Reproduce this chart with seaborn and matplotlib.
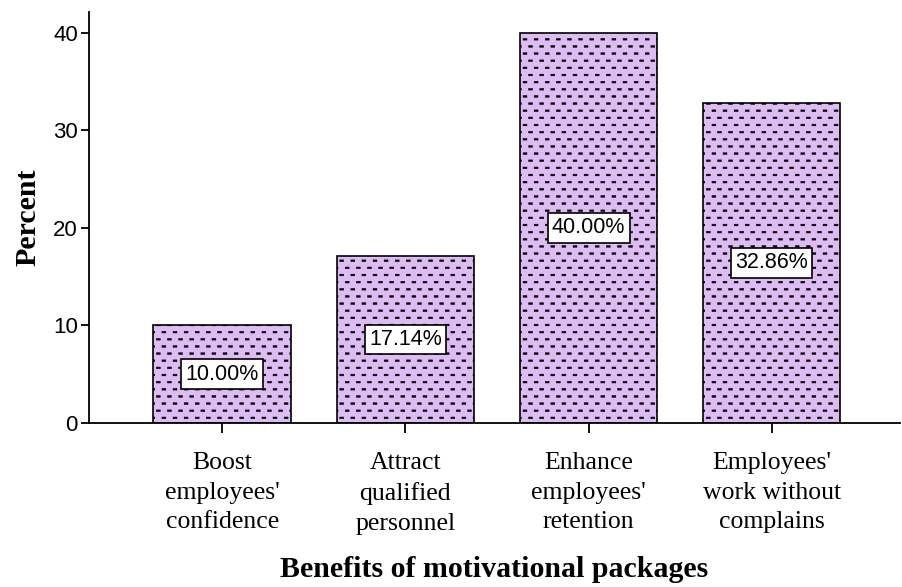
import matplotlib
matplotlib.use("Agg")
import matplotlib.pyplot as plt
import matplotlib.hatch as mhatch
from matplotlib.path import Path
import seaborn as sns
import pandas as pd
import numpy as np

categories = ["Boost\nemployees'\nconfidence", "Attract\nqualified\npersonnel",
              "Enhance\nemployees'\nretention", "Employees'\nwork without\ncomplains"]
percents = [10.00, 17.14, 40.00, 32.86]
value_labels = ["10.00%", "17.14%", "40.00%", "32.86%"]
y_ticks = [0, 10, 20, 30, 40]


class BrickDashes(mhatch.HatchPatternBase):
    """Staggered rows of short horizontal dashes, selected with '*'."""
    rows, cols = 14, 9
    half_w, half_h = 0.019, 0.008

    def __init__(self, hatch, density):
        self.active = hatch.count("*") > 0
        self.num_vertices = self.rows * self.cols * 5 if self.active else 0

    def set_vertices_and_codes(self, vertices, codes):
        k = 0
        for r in range(self.rows):
            y = (r + 0.5) / self.rows
            off = 0.75 if r % 2 else 0.25
            for c in range(self.cols):
                x = (c + off) / self.cols
                vertices[k:k + 5] = [[x - self.half_w, y - self.half_h],
                                     [x + self.half_w, y - self.half_h],
                                     [x + self.half_w, y + self.half_h],
                                     [x - self.half_w, y + self.half_h],
                                     [x - self.half_w, y - self.half_h]]
                codes[k:k + 5] = [Path.MOVETO, Path.LINETO, Path.LINETO,
                                  Path.LINETO, Path.CLOSEPOLY]
                k += 5


mhatch._hatch_types = [t for t in mhatch._hatch_types if t is not mhatch.Stars] + [BrickDashes]

sns.set_theme(style="white")
plt.rcParams.update({
    "hatch.linewidth": 0.4,
    "hatch.color": "black",
    "text.color": "black",
    "axes.labelcolor": "black",
    "xtick.color": "black",
    "ytick.color": "black",
})

df = pd.DataFrame({"benefit": categories, "percent": percents})

fig = plt.figure(figsize=(9.02, 5.87), dpi=100)
ax = fig.add_axes([89 / 902, 164 / 587, 811 / 902, 411 / 587])

sns.barplot(data=df, x="benefit", y="percent", ax=ax, color="#dcbcf2",
            saturation=1, width=0.75, edgecolor="black", linewidth=1.2)
for bar in ax.patches:
    bar.set_hatch("*")

for bar, lab in zip(ax.patches, value_labels):
    ax.text(bar.get_x() + bar.get_width() / 2, bar.get_height() / 2, lab,
            ha="center", va="center", fontsize=15.5, family="Liberation Sans",
            bbox=dict(boxstyle="square,pad=0.2", fc="white", ec="black", lw=1.2))

ax.set_xlim(-0.727, 3.7)
ax.set_ylim(0, 42.15)
ax.set_yticks(y_ticks)
ax.set_yticklabels([str(t) for t in y_ticks], family="Liberation Sans", fontsize=16)
ax.set_xticks(range(len(categories)))
ax.set_xticklabels(categories, family="Liberation Serif", fontsize=18.5, linespacing=1.45)

for side in ["top", "right"]:
    ax.spines[side].set_visible(False)
for side in ["left", "bottom"]:
    ax.spines[side].set_color("black")
    ax.spines[side].set_linewidth(1.3)

ax.tick_params(axis="y", direction="out", length=6, width=1.3, pad=2, left=True)
ax.tick_params(axis="x", direction="out", length=7, width=1.3, pad=14, bottom=True)

ax.set_ylabel("Percent", family="Liberation Serif", fontweight="bold", fontsize=21.5, labelpad=8)
ax.set_xlabel("Benefits of motivational packages", family="Liberation Serif",
              fontweight="bold", fontsize=21.5, labelpad=15)

fig.savefig("out.png", dpi=100)
